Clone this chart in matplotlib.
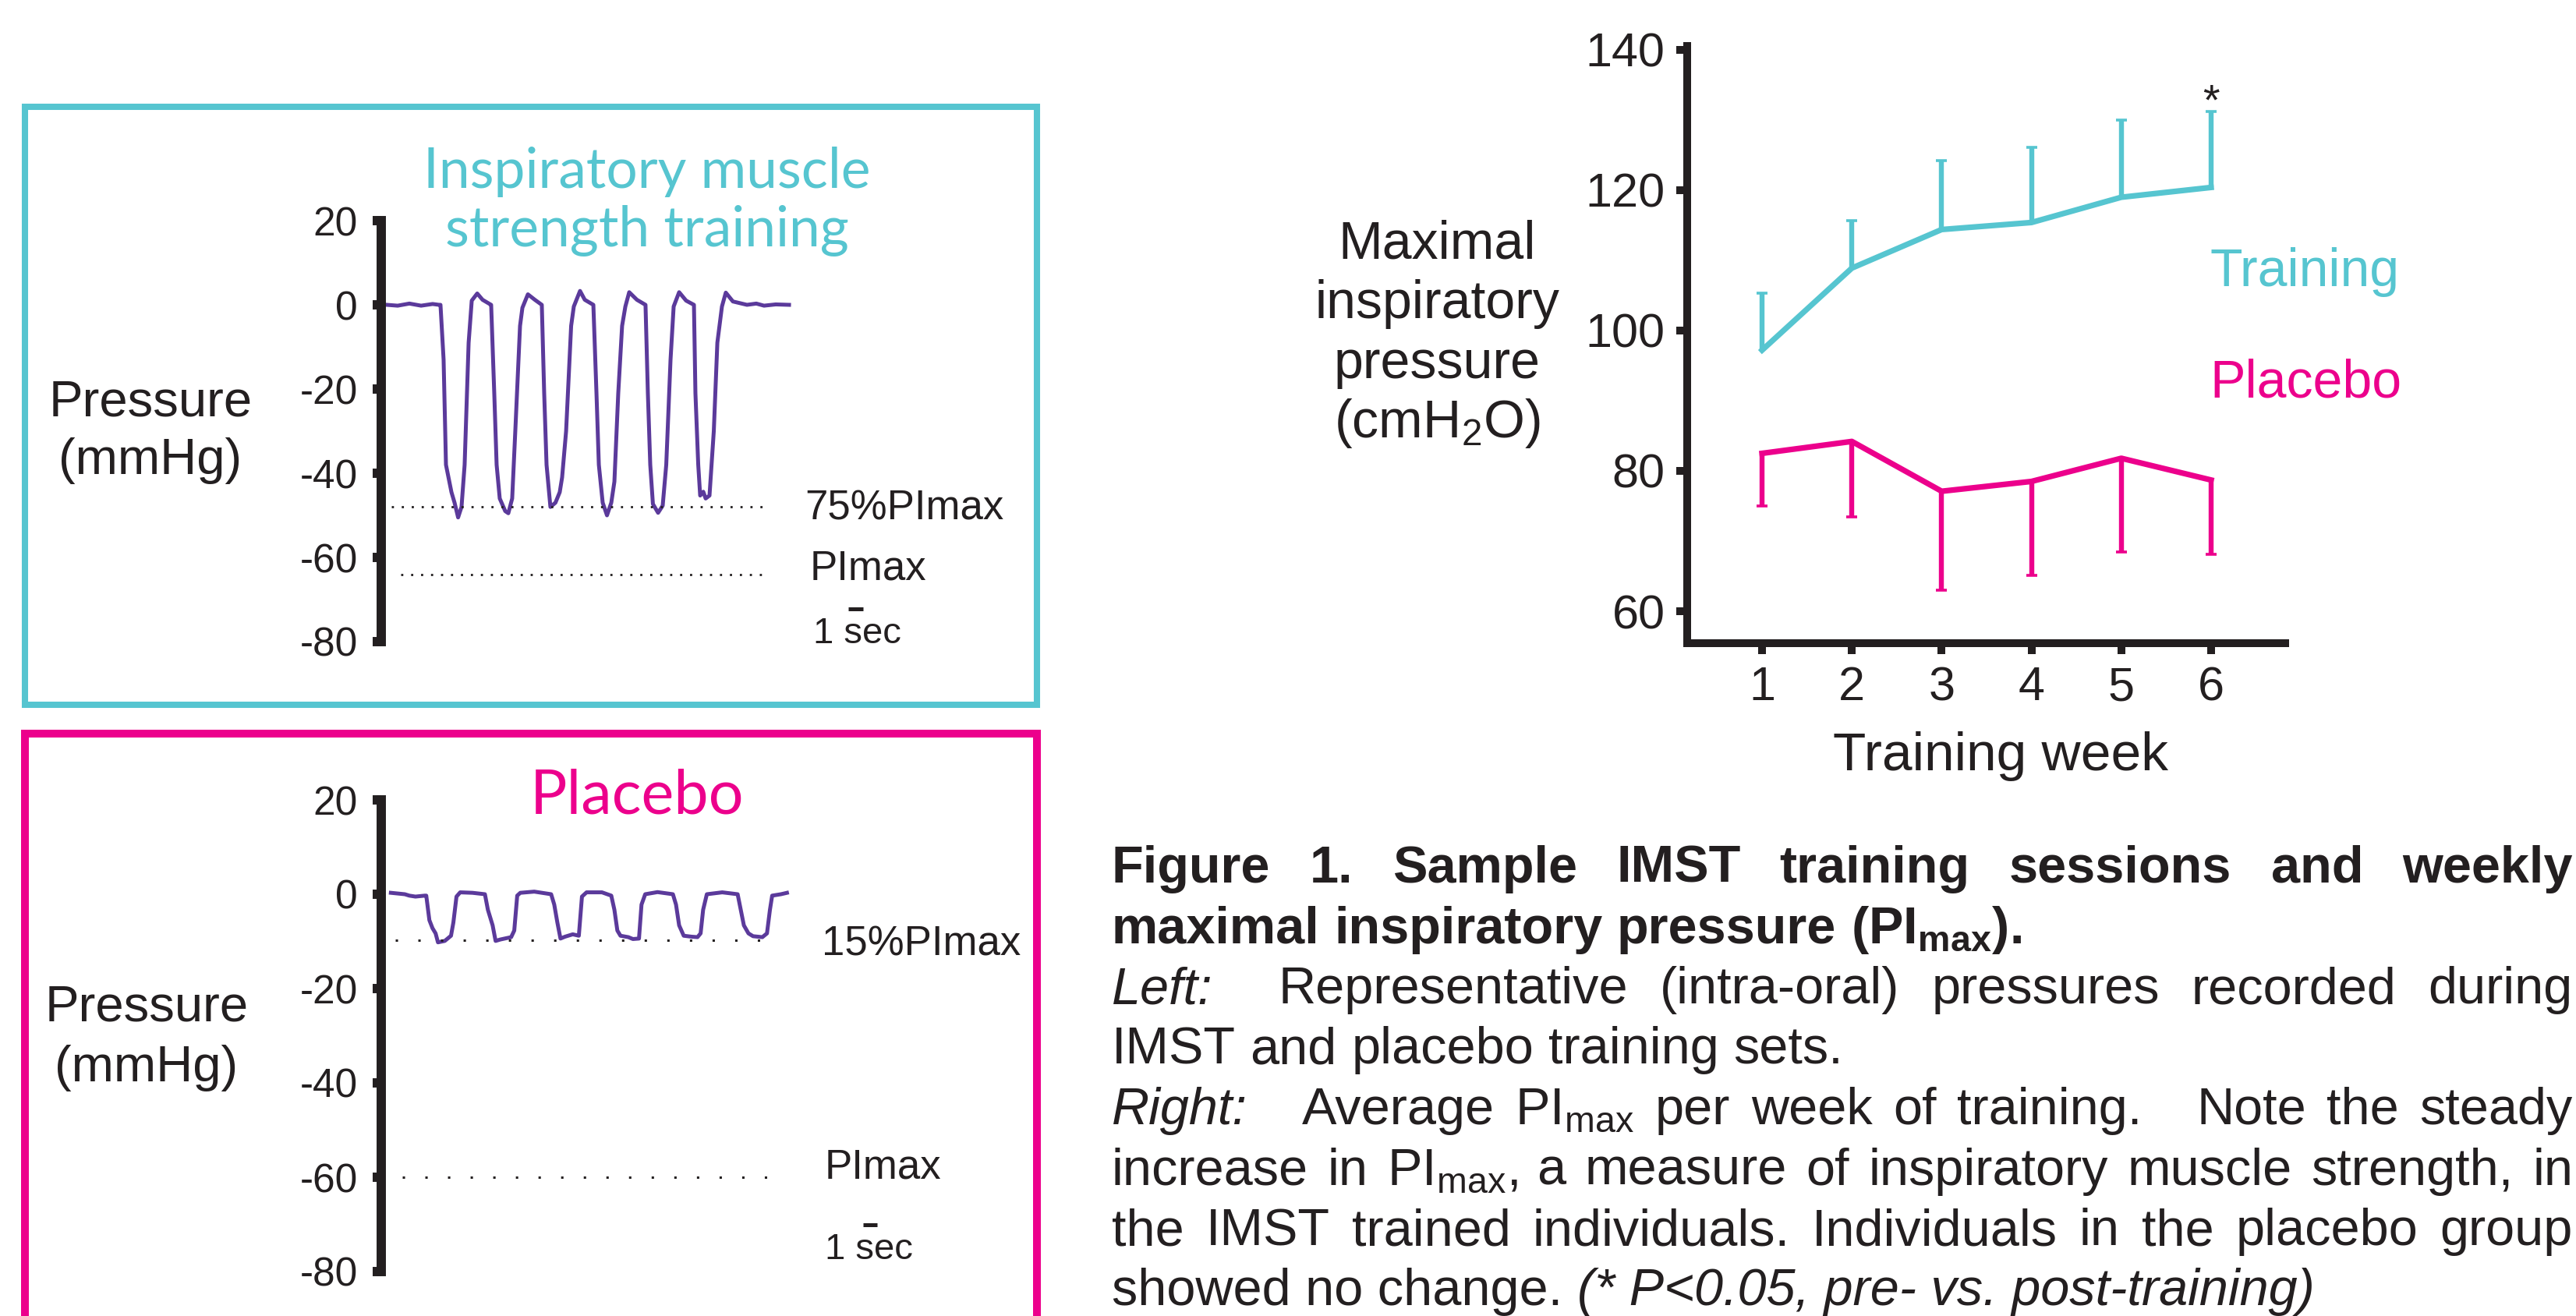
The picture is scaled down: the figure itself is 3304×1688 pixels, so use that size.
import matplotlib
matplotlib.use("Agg")
import matplotlib.pyplot as plt
from matplotlib.patches import Rectangle

W, H, DPI = 3304, 1688, 100
plt.rcParams['font.family'] = ['Liberation Sans', 'DejaVu Sans']
plt.rcParams['mathtext.fontset'] = 'custom'
plt.rcParams['mathtext.rm'] = 'Liberation Sans'
plt.rcParams['mathtext.it'] = 'Liberation Sans:italic'
plt.rcParams['mathtext.bf'] = 'Liberation Sans:bold'
plt.rcParams['axes.unicode_minus'] = False

INK = '#231F20'
CYAN = '#56C5D0'
MAGENTA = '#EC008C'
PURPLE = '#5B3A9B'

# ---------------- data ----------------
# IMST training set: time (s) vs pressure (mmHg)
imst_t = [0.00, 0.74, 1.53, 2.32, 3.10, 3.53,
          3.63, 3.84, 4.00, 4.37, 4.58, 4.82, 5.05, 5.26, 5.53, 5.74, 6.11, 6.47, 6.95, 7.05,
          7.26, 7.42, 7.63, 8.00, 8.21, 8.47, 8.68, 9.00, 9.16, 9.53, 10.00, 10.47,
          10.63, 10.79, 11.05, 11.39, 11.68, 11.84, 12.11, 12.45, 12.63, 13.05, 13.37, 13.95,
          14.16, 14.32, 14.58, 14.87, 15.16, 15.37, 15.63, 15.89, 16.11, 16.37, 16.89, 17.47,
          17.63, 17.79, 17.97, 18.32, 18.63, 18.87, 19.16, 19.37, 19.74, 20.21, 20.74,
          20.84, 21.03, 21.16, 21.37, 21.53, 21.79, 22.08, 22.32, 22.63, 22.89, 23.37, 24.32,
          24.95, 25.47, 26.26, 27.16]
imst_p = [0.0, -0.2, 0.3, -0.2, 0.2, 0.0,
          0.0, -13, -38, -44.5, -47, -50.5, -48, -38, -9, 1, 2.7, 1.2, 0.2, 0.0,
          -21, -38, -46, -49, -49.5, -46, -30, -5, -0.7, 2.5, 1.2, 0.0,
          -21, -38, -48, -47, -44.5, -41, -30, -5, -0.4, 3.3, 1.2, 0.0,
          -21, -38, -47, -50, -47, -42, -21, -5, -0.4, 3.0, 1.2, 0.0,
          -21, -38, -47.3, -49.4, -47.7, -38, -13, -0.4, 3.0, 1.0, 0.0,
          -21, -38, -45.3, -44.4, -46, -45.3, -30, -9, -0.4, 2.9, 0.8, 0.0,
          0.3, -0.2, 0.1, 0.0]
imst_target = -48      # 75% PImax
imst_pimax = -64

# Placebo set
placebo_t = [0.28, 1.22, 1.53, 1.94, 2.57, 2.67, 2.88, 3.09, 3.30, 3.46, 3.92, 4.34, 4.50, 4.71, 4.96, 5.79, 6.63,
             6.83, 7.15, 7.35, 7.67, 8.40, 8.61, 8.81, 9.02, 9.96, 11.10,
             11.31, 11.52, 11.73, 12.04, 12.56, 12.97, 13.18, 13.49, 14.53, 15.16,
             15.37, 15.57, 15.78, 16.31, 16.62, 17.03, 17.20, 17.45, 18.28, 19.32,
             19.53, 19.74, 20.05, 20.57, 20.98, 21.19, 21.36, 21.61, 22.65, 23.69,
             23.90, 24.11, 24.42, 24.73, 25.36, 25.67, 25.87, 26.02, 26.61, 27.02]
placebo_p = [0.3, 0.0, -0.3, -0.5, -0.3, -0.3, -5.5, -7.2, -8.3, -10.2, -9.9, -8.8, -6.0, -0.5, 0.4, 0.3, 0.0,
             -3.3, -6.6, -9.9, -9.6, -9.1, -7.7, -0.3, 0.3, 0.55, 0.0,
             -2.2, -6.0, -9.4, -9.0, -8.5, -8.8, -0.5, 0.4, 0.4, -0.3,
             -3.3, -7.7, -8.8, -9.1, -9.5, -9.4, -2.2, 0.0, 0.45, 0.0,
             -2.2, -6.6, -8.8, -9.0, -9.1, -8.3, -3.3, 0.0, 0.4, 0.0,
             -3.3, -6.6, -8.3, -8.9, -9.1, -8.3, -3.3, -0.3, 0.0, 0.3]
placebo_target = -9.7  # 15% PImax
placebo_pimax = -60

pressure_ticks = [20, 0, -20, -40, -60, -80]
pressure_ticklabels = ['20', '0', '-20', '-40', '-60', '-80']

weeks = [1, 2, 3, 4, 5, 6]
training_mean = [97.2, 108.9, 114.4, 115.4, 119.0, 120.4]
training_err = [8.1, 6.8, 9.8, 10.7, 11.0, 10.8]
placebo_mean = [82.5, 84.2, 77.1, 78.5, 81.8, 78.7]
placebo_err = [7.5, 10.8, 14.1, 13.4, 13.4, 10.6]
pimax_ticks = [60, 80, 100, 120, 140]

# ---------------- figure ----------------
fig = plt.figure(figsize=(W / DPI, H / DPI), dpi=DPI)
renderer = fig.canvas.get_renderer()


def fx(x):
    return x / W


def fy(y):
    return 1 - y / H


def px_axes(x0, y0, x1, y1):
    return fig.add_axes([x0 / W, 1 - y1 / H, (x1 - x0) / W, (y1 - y0) / H])


def text_w(s, **kw):
    t = fig.text(0, 0, s, **kw)
    w = t.get_window_extent(renderer).width
    t.remove()
    return w


# panel frames
fig.add_artist(Rectangle((fx(32), fy(904)), (1330 - 32) / W, (904 - 137) / H,
                         transform=fig.transFigure, fill=False, ec=CYAN, lw=5.8))
fig.add_artist(Rectangle((fx(32), fy(1730)), (1330 - 32) / W, (1730 - 941) / H,
                         transform=fig.transFigure, fill=False, ec=MAGENTA, lw=7.2))

SEC_PX = 19.0      # pixels per second in the traces
T0_PX = 496.0      # pixel x of t = 0
SPINE_X = 489.0


def trace_axes(y_top, px_per_unit):
    y_zero = y_top + 20 * px_per_unit
    y_bot = y_zero + 80 * px_per_unit
    ax = px_axes(SPINE_X, y_top, 1300, y_bot)
    ax.set_xlim((SPINE_X - T0_PX) / SEC_PX, (1300 - T0_PX) / SEC_PX)
    ax.set_ylim(-80, 20)
    for s in ('top', 'right', 'bottom'):
        ax.spines[s].set_visible(False)
    ax.spines['left'].set_linewidth(8.6)
    ax.spines['left'].set_color(INK)
    ax.spines['left'].set_capstyle('projecting')
    ax.set_xticks([])
    ax.set_yticks(pressure_ticks)
    ax.set_yticklabels(pressure_ticklabels)
    ax.tick_params(axis='y', direction='out', length=7.6, width=8.6, pad=14,
                   labelsize=37, colors=INK)
    ax.patch.set_visible(False)
    return ax


title_family = ['Lato', 'DejaVu Sans']
TITLE_W = 'normal'

# ---- IMST trace panel ----
ax1 = trace_axes(283, 5.4)
ax1.plot(imst_t, imst_p, color=PURPLE, lw=3.6, solid_joinstyle='round')
ax1.plot([0.32, 25.4], [imst_target, imst_target], color=INK, lw=2.0,
         linestyle=(0, (1, 3.6)), dash_capstyle='butt')
ax1.plot([0.95, 25.4], [imst_pimax, imst_pimax], color=INK, lw=2.0,
         linestyle=(0, (1, 3.6)), dash_capstyle='butt')
ax1.text(28.21, -48.5, '75%PImax', fontsize=38, color=INK, va='center', ha='left')
ax1.text(28.58, -62.6, 'PImax', fontsize=38, color=INK, va='center', ha='left')
ax1.text(28.79, -80.4, '1 sec', fontsize=34, color=INK, va='baseline', ha='left')
ax1.plot([31.16, 32.16], [-72.2, -72.2], color=INK, lw=3.6, solid_capstyle='butt')

fs1 = 50 * 573 / text_w('Inspiratory muscle', fontsize=50, family=title_family, fontweight=TITLE_W)
fig.text(fx(830), fy(241), 'Inspiratory muscle', fontsize=fs1, family=title_family,
         fontweight=TITLE_W, color=CYAN, ha='center', va='baseline')
fig.text(fx(830), fy(316), 'strength training', fontsize=fs1, family=title_family,
         fontweight=TITLE_W, color=CYAN, ha='center', va='baseline')
fig.text(fx(193), fy(533), 'Pressure', fontsize=47, color=INK, ha='center', va='baseline')
fig.text(fx(193), fy(608), '(mmHg)', fontsize=47, color=INK, ha='center', va='baseline')

# ---- Placebo trace panel ----
ax2 = trace_axes(1026, 6.05)
ax2.plot(placebo_t, placebo_p, color=PURPLE, lw=3.6, solid_joinstyle='round')
ax2.plot([0.58, 26.4], [placebo_target, placebo_target], color=INK, lw=2.2,
         linestyle=(0, (1, 8.5)), dash_capstyle='butt')
ax2.plot([1.05, 27.0], [placebo_pimax, placebo_pimax], color=INK, lw=2.2,
         linestyle=(0, (1, 8.5)), dash_capstyle='butt')
ax2.text(29.37, -10.7, '15%PImax', fontsize=38, color=INK, va='center', ha='left')
ax2.text(29.58, -58.0, 'PImax', fontsize=38, color=INK, va='center', ha='left')
ax2.text(29.58, -77.3, '1 sec', fontsize=34, color=INK, va='baseline', ha='left')
ax2.plot([32.16, 33.1], [-70.1, -70.1], color=INK, lw=3.6, solid_capstyle='butt')

fs2 = 50 * 274 / text_w('Placebo', fontsize=50, family=title_family, fontweight=TITLE_W)
fig.text(fx(817), fy(1043), 'Placebo', fontsize=fs2, family=title_family,
         fontweight=TITLE_W, color=MAGENTA, ha='center', va='baseline')
fig.text(fx(188), fy(1310), 'Pressure', fontsize=47, color=INK, ha='center', va='baseline')
fig.text(fx(188), fy(1387), '(mmHg)', fontsize=47, color=INK, ha='center', va='baseline')

# ---- weekly PImax panel ----
def val_of(y):
    return 60 + (784 - y) / 9.0


def wk_of(x):
    return 1 + (x - 2260) / 115.2


ax3 = px_axes(2164, 59, 2931, 825)
ax3.set_xlim(wk_of(2164), wk_of(2931))
ax3.set_ylim(val_of(825), val_of(59))
ax3.patch.set_visible(False)
for s in ('top', 'right'):
    ax3.spines[s].set_visible(False)
for s in ('left', 'bottom'):
    ax3.spines[s].set_linewidth(7.2)
    ax3.spines[s].set_color(INK)
    ax3.spines[s].set_capstyle('projecting')
ax3.set_xticks(weeks)
ax3.set_xticklabels([str(w) for w in weeks])
ax3.set_yticks(pimax_ticks)
ax3.set_yticklabels([str(v) for v in pimax_ticks])
ax3.tick_params(axis='both', direction='out', length=10, width=7.2, labelsize=44, colors=INK)
ax3.tick_params(axis='y', pad=10.5)
ax3.tick_params(axis='x', pad=11)

zeros = [0] * len(weeks)
ln, caps, bars = ax3.errorbar(weeks, training_mean, yerr=[zeros, training_err], color=CYAN,
                              lw=5.2, elinewidth=4.6, capsize=5, capthick=2.6, clip_on=False)
caps[0].set_visible(False)
ln, caps, bars = ax3.errorbar(weeks, placebo_mean, yerr=[placebo_err, zeros], color=MAGENTA,
                              lw=5.2, elinewidth=4.6, capsize=5, capthick=2.6, clip_on=False)
caps[1].set_visible(False)
ax3.text(6, 130.8, '*', fontsize=40, color=INK, ha='center', va='baseline')

fig.text(fx(2834), fy(367), 'Training', fontsize=49, color=CYAN, ha='left', va='baseline')
fig.text(fx(2834), fy(510), 'Placebo', fontsize=49, color=MAGENTA, ha='left', va='baseline')
fig.text(fx(2566), fy(988), 'Training week', fontsize=50, color=INK, ha='center', va='baseline')
for yb, s in zip([332, 408, 485, 561],
                 ['Maximal', 'inspiratory', 'pressure', r'(cmH$_{\mathregular{2}}$O)']):
    fig.text(fx(1843), fy(yb), s, fontsize=49, color=INK, ha='center', va='baseline')

# ---- caption ----
CAP_L, CAP_R = 1426, 3300
CAP_FS = 48
STYLES = {
    'b': dict(fontsize=CAP_FS, fontweight='bold', color=INK),
    'r': dict(fontsize=CAP_FS, color=INK),
    'i': dict(fontsize=CAP_FS, style='italic', color=INK),
}
EXTRA = 43  # extra px for the wide gaps


def cap_line(tokens, baseline, justify):
    widths = [text_w(t, **STYLES[k]) for t, k, g in tokens]
    gaps = [g for t, k, g in tokens]
    n_gap = sum(1 for g in gaps[1:] if g > 0)
    n_extra = sum(1 for g in gaps[1:] if g == 2)
    if justify and n_gap:
        unit = (CAP_R - CAP_L - sum(widths) - EXTRA * n_extra) / n_gap
    else:
        k0 = tokens[0][1]
        unit = text_w('a a', **STYLES[k0]) - text_w('aa', **STYLES[k0])
    x = CAP_L
    for i, ((t, k, g), w) in enumerate(zip(tokens, widths)):
        if i > 0:
            x += unit + (EXTRA if g == 2 else 0)
        fig.text(fx(x), fy(baseline), t, ha='left', va='baseline', **STYLES[k])
        x += w


def words(s, k):
    return [(w, k, 0 if i == 0 else 1) for i, w in enumerate(s.split())]


PIMAX = r'PI$_{\mathregular{max}}$'
base0, step = 1132, 77.5
cap_line(words('Figure 1. Sample IMST training sessions and weekly', 'b'), base0, True)
cap_line(words('maximal inspiratory pressure', 'b') + [('(' + PIMAX + ').', 'b', 1)],
         base0 + step, False)
cap_line([('Left:', 'i', 0)] + [(w, 'r', 2 if i == 0 else 1) for i, w in enumerate(
    'Representative (intra-oral) pressures recorded during'.split())], base0 + 2 * step, True)
cap_line(words('IMST and placebo training sets.', 'r'), base0 + 3 * step, False)
cap_line([('Right:', 'i', 0), ('Average', 'r', 2), (PIMAX, 'r', 1), ('per', 'r', 1),
          ('week', 'r', 1), ('of', 'r', 1), ('training.', 'r', 1), ('Note', 'r', 2),
          ('the', 'r', 1), ('steady', 'r', 1)], base0 + 4 * step, True)
cap_line([('increase', 'r', 0), ('in', 'r', 1), (PIMAX + ',', 'r', 1)] +
         [(w, 'r', 1) for w in 'a measure of inspiratory muscle strength, in'.split()],
         base0 + 5 * step, True)
cap_line(words('the IMST trained individuals. Individuals in the placebo group', 'r'),
         base0 + 6 * step, True)
cap_line([('showed no change.', 'r', 0), ('(* P<0.05, pre- vs. post-training)', 'i', 1)],
         base0 + 7 * step, False)

fig.savefig('out.png', dpi=DPI, facecolor='white')
